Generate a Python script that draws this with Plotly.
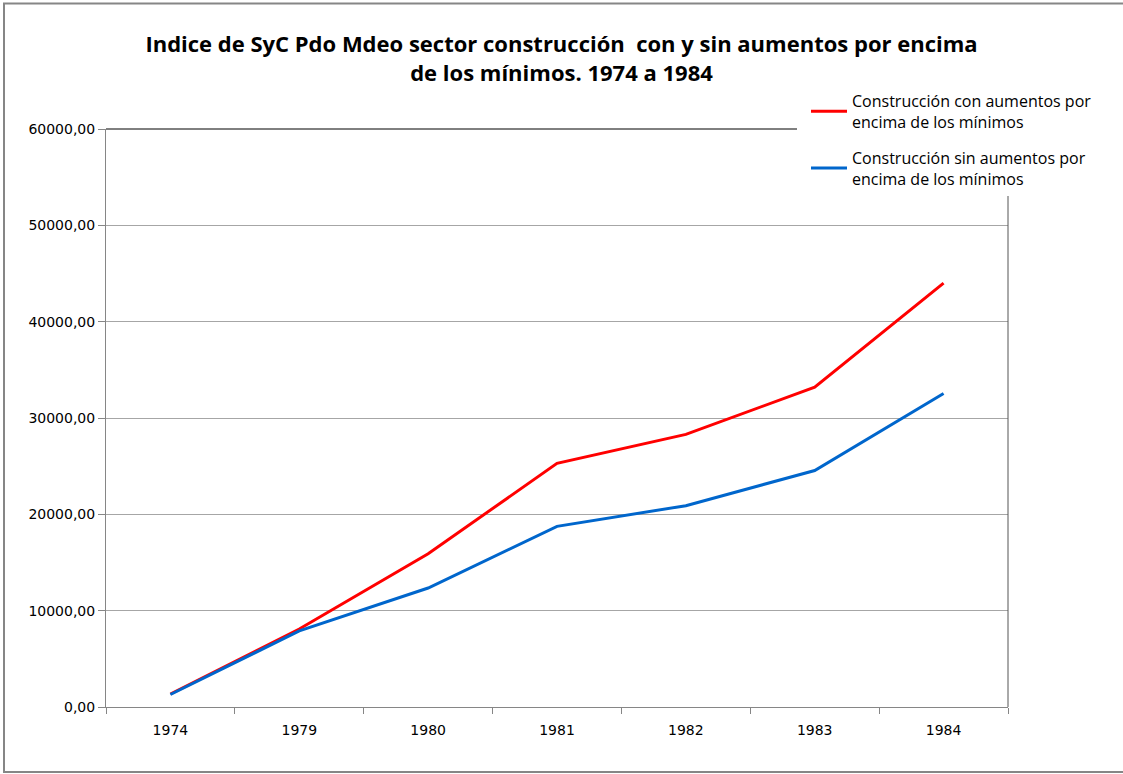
import plotly.graph_objects as go

years = ["1974", "1979", "1980", "1981", "1982", "1983", "1984"]
con_aumentos = [1350, 8100, 15900, 25300, 28300, 33200, 44000]
sin_aumentos = [1300, 7900, 12350, 18750, 20900, 24550, 32550]
name_con = "Construcción con aumentos por<br>encima de los mínimos"
name_sin = "Construcción sin aumentos por<br>encima de los mínimos"
y_ticks = [0, 10000, 20000, 30000, 40000, 50000, 60000]

fig = go.Figure()
fig.add_trace(go.Scatter(x=years, y=con_aumentos, mode="lines", name=name_con,
                         legendgroup="a", line=dict(color="#FF0000", width=3)))
fig.add_trace(go.Scatter(x=years, y=sin_aumentos, mode="lines", name=name_sin,
                         legendgroup="b", line=dict(color="#0066CC", width=3)))

L, R, T, B = 106, 115, 129, 67
W, H = 1123, 774
pw, ph = W - L - R, H - T - B

def px(x):
    return (x - L) / pw

def py(y):
    return (H - B - y) / ph

fig.update_layout(
    width=W, height=H,
    margin=dict(l=L, r=R, t=T, b=B),
    paper_bgcolor="white", plot_bgcolor="white",
    separators=",.",
    font=dict(family="DejaVu Sans", size=14, color="#000000"),
    title=dict(
        text="<b>Indice de SyC Pdo Mdeo sector construcción  con y sin aumentos por encima<br>de los mínimos. 1974 a 1984</b>",
        x=0.5, xref="container", xanchor="center",
        y=1 - 52 / H, yref="container", yanchor="top",
        font=dict(family="Open Sans", size=22, color="#000000"),
    ),
    legend=dict(
        x=px(806), y=py(84), xanchor="left", yanchor="top",
        bgcolor="white", borderwidth=0, itemwidth=36,
        font=dict(family="Open Sans", size=16, color="#000000"),
        traceorder="grouped", tracegroupgap=12,
    ),
    xaxis=dict(
        type="category", showgrid=False, showline=True, linecolor="#868686", linewidth=1,
        ticks="outside", tickson="boundaries", ticklen=6, tickcolor="#868686",
        tickfont=dict(family="DejaVu Sans", size=14, color="#000000"),
        ticklabelstandoff=10,
        range=[-0.5, 6.5],
    ),
    yaxis=dict(
        range=[0, 60000], tickvals=y_ticks, tickformat=".2f",
        showgrid=True, gridcolor="#A6A6A6", gridwidth=1,
        showline=True, linecolor="#868686", linewidth=1,
        ticks="outside", ticklen=7, tickcolor="#868686",
        tickfont=dict(family="DejaVu Sans", size=14, color="#000000"),
        zeroline=False,
    ),
    shapes=[
        dict(type="line", xref="paper", yref="paper", x0=0, x1=px(797), y0=1, y1=1,
             line=dict(color="#000000", width=1), layer="above"),
        dict(type="line", xref="paper", yref="paper", x0=1, x1=1, y0=0, y1=py(195),
             line=dict(color="#555555", width=1), layer="above"),
        dict(type="rect", xref="paper", yref="paper",
             x0=px(4), x1=px(1135), y0=py(772), y1=py(3.5),
             line=dict(color="#868686", width=2), layer="below"),
    ],
)

fig.write_html("out.html", config={"displayModeBar": False},
               post_script="document.body.style.margin='0';document.body.style.overflow='hidden';")
